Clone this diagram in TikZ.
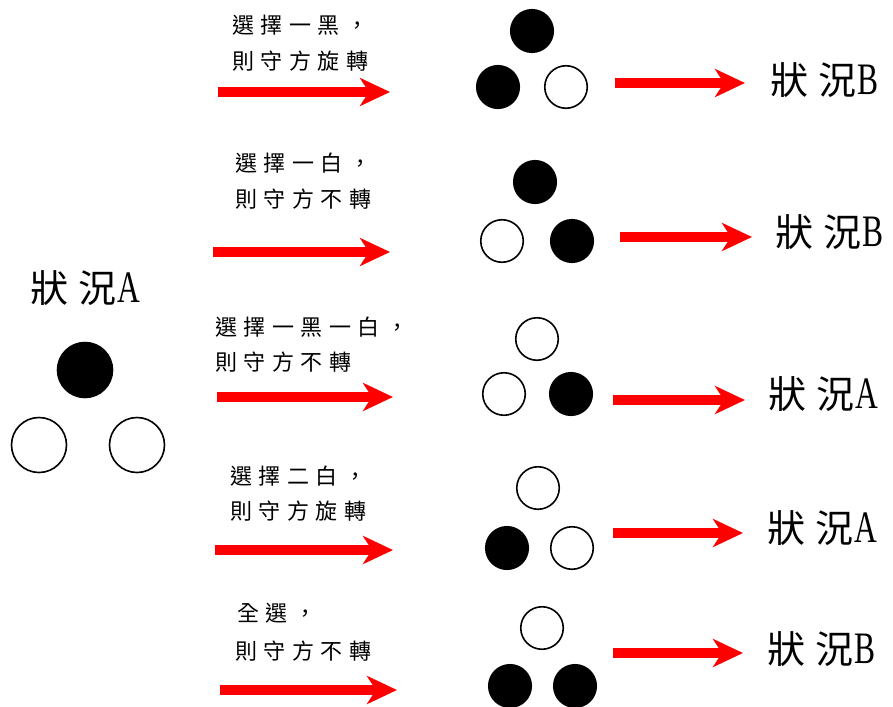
\documentclass[tikz,border=0pt]{standalone}
\usepackage{fontspec}
\newfontfamily\cjk{Noto Sans CJK TC}
\newfontfamily\latn[FakeStretch=0.7]{Liberation Serif}
\usetikzlibrary{arrows.meta}

% spread the characters of a caption apart
\makeatletter
\def\trk#1{\trk@loop#1\relax}
\def\trk@loop#1{\ifx\relax#1\else#1\kern6.5pt\expandafter\trk@loop\fi}
\makeatother
% "狀況" followed by the state letter
\newcommand\situation[1]{狀\kern10pt 況\kern1pt{\latn\fontsize{45pt}{50pt}\selectfont #1}}

\tikzset{
  note/.style={anchor=west, inner sep=0pt, font=\cjk\fontsize{22pt}{26pt}\selectfont},
  state/.style={anchor=west, inner sep=0pt, font=\cjk\fontsize{38pt}{44pt}\selectfont},
  stone/.style={circle, draw=black, line width=1.6pt, minimum size=42.5pt, inner sep=0pt},
  blk/.style={stone, fill=black},
  wht/.style={stone, fill=white},
  bigstone/.style={minimum size=55pt},
  redarrow/.style={draw=red, line width=10pt, -{Stealth[length=30pt,width=28pt,inset=9pt]}}
}

\begin{document}
\begin{tikzpicture}[x=1pt, y=-1pt]
\fill[white] (0,0) rectangle (893,706);
\useasboundingbox (0,0) rectangle (893,706);

% starting position
\node[state] (sA) at (30,288) {\situation{A}};
\node[blk, bigstone] (a0) at (85,370) {};
\node[wht, bigstone] (a1) at (39,445) {};
\node[wht, bigstone] (a2) at (137,445) {};

% case 1
\node[note] (t1a) at (232,25) {\trk{選擇一黑，}};
\node[note] (t1b) at (232,61) {\trk{則守方旋轉}};
\coordinate (p1s) at (218,92); \coordinate (p1e) at (390,92);
\draw[redarrow] (p1s) -- (p1e);
\node[blk] (c1t) at (532,31) {};
\node[blk] (c1l) at (498,87) {};
\node[wht] (c1r) at (566,87) {};
\coordinate (q1s) at (615,83); \coordinate (q1e) at (745,83);
\draw[redarrow] (q1s) -- (q1e);
\node[state] (s1) at (770,80) {\situation{B}};

% case 2
\node[note] (t2a) at (235,163) {\trk{選擇一白，}};
\node[note] (t2b) at (235,199) {\trk{則守方不轉}};
\coordinate (p2s) at (213,252); \coordinate (p2e) at (390,252);
\draw[redarrow] (p2s) -- (p2e);
\node[blk] (c2t) at (535,182) {};
\node[wht] (c2l) at (502,241) {};
\node[blk] (c2r) at (572,241) {};
\coordinate (q2s) at (620,237); \coordinate (q2e) at (752,237);
\draw[redarrow] (q2s) -- (q2e);
\node[state] (s2) at (775,232) {\situation{B}};

% case 3
\node[note] (t3a) at (215,327) {\trk{選擇一黑一白，}};
\node[note] (t3b) at (215,362) {\trk{則守方不轉}};
\coordinate (p3s) at (217,397); \coordinate (p3e) at (393,397);
\draw[redarrow] (p3s) -- (p3e);
\node[wht] (c3t) at (537,339) {};
\node[wht] (c3l) at (504,394) {};
\node[blk] (c3r) at (571,394) {};
\coordinate (q3s) at (613,400); \coordinate (q3e) at (745,400);
\draw[redarrow] (q3s) -- (q3e);
\node[state] (s3) at (768,394) {\situation{A}};

% case 4
\node[note] (t4a) at (230,476) {\trk{選擇二白，}};
\node[note] (t4b) at (230,511) {\trk{則守方旋轉}};
\coordinate (p4s) at (215,550); \coordinate (p4e) at (393,550);
\draw[redarrow] (p4s) -- (p4e);
\node[wht] (c4t) at (538,488) {};
\node[blk] (c4l) at (507,548) {};
\node[wht] (c4r) at (572,548) {};
\coordinate (q4s) at (613,533); \coordinate (q4e) at (743,533);
\draw[redarrow] (q4s) -- (q4e);
\node[state] (s4) at (767,528) {\situation{A}};

% case 5
\node[note] (t5a) at (237,613) {\trk{全選，}};
\node[note] (t5b) at (235,651) {\trk{則守方不轉}};
\coordinate (p5s) at (220,690); \coordinate (p5e) at (397,690);
\draw[redarrow] (p5s) -- (p5e);
\node[wht] (c5t) at (542,628) {};
\node[blk] (c5l) at (510,686) {};
\node[blk] (c5r) at (575,686) {};
\coordinate (q5s) at (613,653); \coordinate (q5e) at (743,653);
\draw[redarrow] (q5s) -- (q5e);
\node[state] (s5) at (767,649) {\situation{B}};
\end{tikzpicture}
\end{document}
